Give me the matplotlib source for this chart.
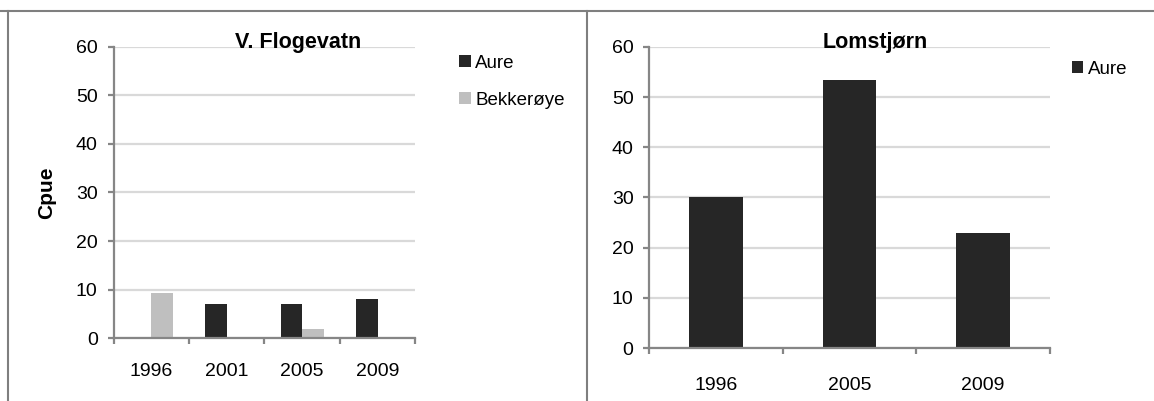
import matplotlib.pyplot as plt
from matplotlib.lines import Line2D
from matplotlib.ticker import MultipleLocator
import numpy as np

plt.rcParams['font.family'] = ['Liberation Sans', 'DejaVu Sans']

# V. Flogevatn
flog_years = ['1996', '2001', '2005', '2009']
flog_aure = [0, 7, 7, 8]
flog_bekk = [9.2, 0, 1.8, 0]

# Lomstjørn
lom_years = ['1996', '2005', '2009']
lom_aure = [30, 53.5, 23]

dark = '#262626'
light = '#bfbfbf'
grid_c = '#d9d9d9'
spine_c = '#868686'
fs = 14


def style_axes(ax, ncat, labelpad):
    ax.set_xlim(-0.5, ncat - 0.5)
    ax.set_ylim(0, 60)
    ax.yaxis.set_major_locator(MultipleLocator(10))
    ax.set_xticks(np.arange(ncat + 1) - 0.5)
    ax.set_xticklabels([])
    ax.grid(axis='y', color=grid_c, linewidth=1.6)
    ax.set_axisbelow(True)
    for s in ['top', 'right']:
        ax.spines[s].set_visible(False)
    for s in ['left', 'bottom']:
        ax.spines[s].set_color(spine_c)
        ax.spines[s].set_linewidth(1.6)
    ax.tick_params(axis='both', which='major', color=spine_c, width=1.6,
                   length=4.5, labelsize=fs, direction='out')
    ax.tick_params(axis='y', pad=7)
    ax.tick_params(axis='x', which='minor', length=0, pad=labelpad, labelsize=fs)


fig = plt.figure(figsize=(11.54, 4.01), dpi=100)

# left chart
ax1 = fig.add_axes([0.0985, 0.157, 0.2613, 0.726])
x = np.arange(len(flog_years))
w = 0.285
b1 = ax1.bar(x - w / 2, flog_aure, w, color=dark, label='Aure')
b2 = ax1.bar(x + w / 2, flog_bekk, w, color=light, label='Bekkerøye')
style_axes(ax1, len(flog_years), 18)
ax1.set_xticks(x, minor=True)
ax1.set_xticklabels(flog_years, minor=True)
ax1.legend(handles=[b1, b2], loc='upper left', bbox_to_anchor=(0.3915, 0.882),
           bbox_transform=fig.transFigure, frameon=False, fontsize=13.5,
           handlelength=0.6, handleheight=0.6, handletextpad=0.25,
           labelspacing=1.05, borderaxespad=0)
fig.text(0.258, 0.893, 'V. Flogevatn', ha='center', va='center',
         fontsize=15.5, fontweight='bold')
fig.text(0.04, 0.52, 'Cpue', ha='center', va='center', rotation=90,
         fontsize=15, fontweight='bold')

# right chart
ax2 = fig.add_axes([0.5628, 0.132, 0.3467, 0.751])
x2 = np.arange(len(lom_years))
b3 = ax2.bar(x2, lom_aure, 0.4, color=dark, label='Aure')
style_axes(ax2, len(lom_years), 21)
ax2.set_xticks(x2, minor=True)
ax2.set_xticklabels(lom_years, minor=True)
ax2.legend(handles=[b3], loc='upper left', bbox_to_anchor=(0.9225, 0.867),
           bbox_transform=fig.transFigure, frameon=False, fontsize=13.5,
           handlelength=0.6, handleheight=0.6, handletextpad=0.25,
           borderaxespad=0)
fig.text(0.7588, 0.893, 'Lomstjørn', ha='center', va='center',
         fontsize=15.5, fontweight='bold')

# frame lines around the panels
fig.add_artist(Line2D([0, 1], [1 - 11 / 401, 1 - 11 / 401], color='#7f7f7f', lw=1.5))
fig.add_artist(Line2D([8 / 1154, 8 / 1154], [0, 1 - 11 / 401], color='#7f7f7f', lw=1.5))
fig.add_artist(Line2D([587 / 1154, 587 / 1154], [0, 1 - 11 / 401], color='#7f7f7f', lw=1.5))

fig.savefig('out.png', dpi=100)
